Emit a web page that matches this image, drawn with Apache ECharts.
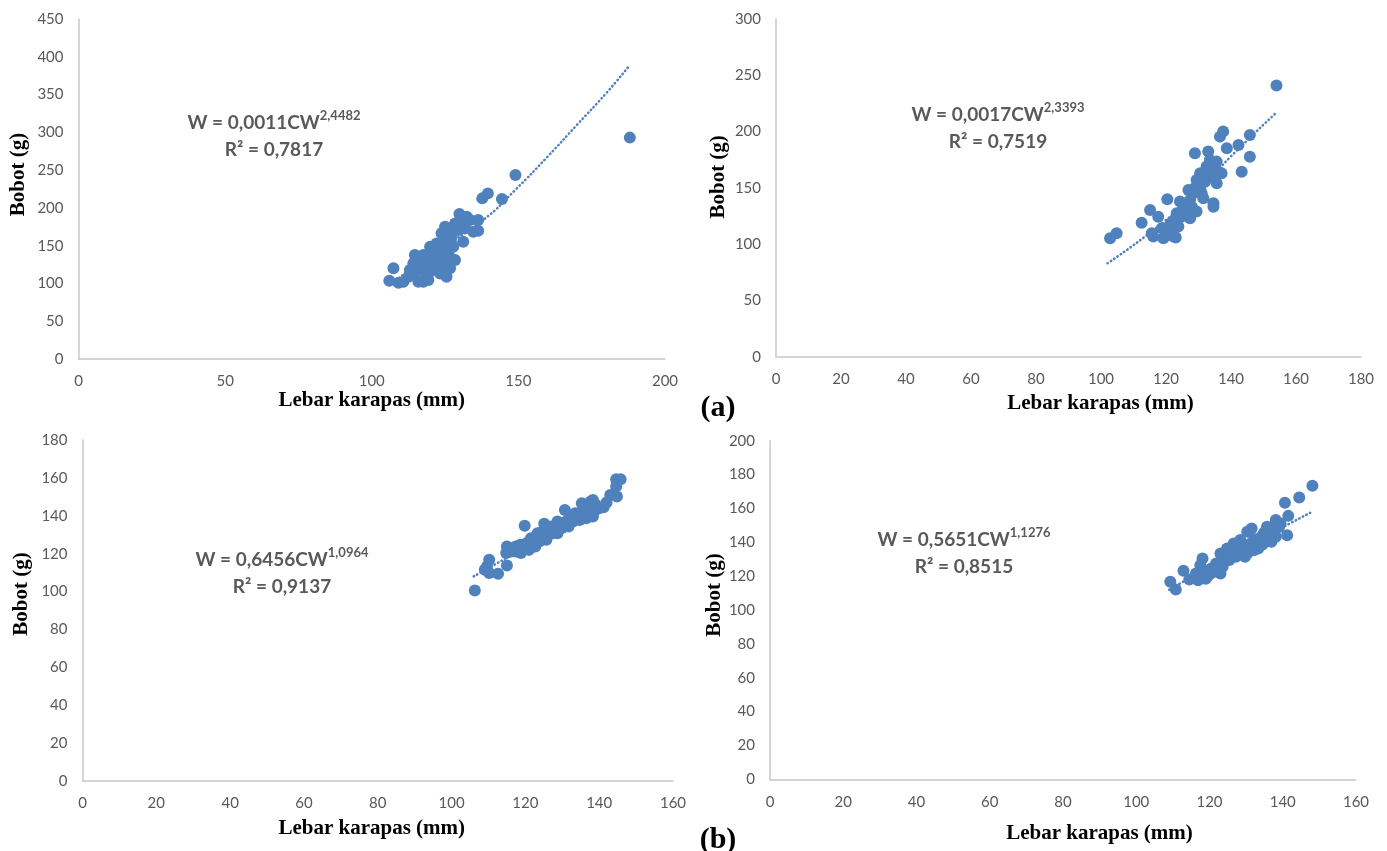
<!DOCTYPE html>
<html>
<head>
<meta charset="utf-8">
<script src="https://cdn.jsdelivr.net/npm/echarts@6/dist/echarts.min.js"></script>
<style>html,body{margin:0;padding:0;background:#fff}#c{width:1387px;height:851px}</style>
</head>
<body>
<div id="c"></div>
<script>
// ---------- data ----------
const points1 = [[106.0,103.6],[107.4,120],[109.1,101],[110.8,102.3],[112.5,108.9],[113.0,117.7],[114.2,126.6],[114.7,137.6],[117.6,137.6],[115.9,102.3],[117.6,102.3],[119.3,104.5],[116.4,120],[118.7,122.2],[120.4,131],[121.6,139.8],[122.1,153],[123.8,166.3],[125,175.1],[122.1,126.6],[123.3,113.3],[125.5,108.9],[126.7,120],[126.1,139.8],[127.8,148.6],[128.4,131],[127.2,161.9],[129.5,170.7],[131.2,155.2],[131.8,172.9],[133.5,183.9],[132.4,188.3],[129.9,191.9],[136.3,183.9],[136.3,169.8],[114.2,113.3],[115.3,122.2],[118.2,111.1],[119.9,115.5],[121,122.2],[122.7,135.4],[123.8,146.4],[125,153],[125.5,159.7],[119.9,148.6],[121,144.2],[117,128.8],[119.3,135.4],[126.7,166.3],[128.4,179.5],[130.1,177.3],[134.6,168.5],[118,115],[120,118],[122,130],[124,140],[125,145],[127,155],[126,128],[124,125],[137.7,212.6],[139.6,219.2],[144.4,211.7],[149,243.5],[188,293]];
const trend1 = [[106,98],[120,137],[138,184],[149,224],[160,268],[170,310],[180,352],[188,389]];

const points2 = [[102.8,105.2],[104.8,109.6],[112.5,119.1],[115.1,130.4],[117.6,124.4],[120.4,139.8],[115.6,109.6],[116.1,106.7],[119.2,105.2],[122.3,106.7],[118.7,114.1],[121.2,117],[123,105.8],[123.8,115.6],[123.3,127.4],[124.3,137.8],[126.4,130.4],[127.4,123],[129.4,128.9],[126.9,148.1],[129.4,157],[130.5,162.9],[132,155.5],[134.6,136.3],[134.6,133.3],[131.5,140.7],[128.9,180.7],[133,182.2],[133.5,174.8],[135.6,173.3],[136.1,164.4],[137.1,162.9],[135.6,154.1],[136.6,195.5],[137.6,200],[138.7,185.1],[142.3,188.1],[143.3,164.4],[145.8,197],[145.8,177.7],[127.4,139.3],[128.4,145.2],[130.5,149.6],[125.3,133.3],[132.5,168.9],[134.1,160],[124.5,124],[125.5,128],[126,135],[127,127],[128,133],[129,150],[130,154],[131,145],[133,165],[134,170],[135,158],[121,112],[122,120],[120,110],[154,241]];
const trend2 = [[102,83],[115,110],[128,142],[140,178],[154,217]];

const points3 = [[106.3,100.6],[110.2,116.8],[109.6,113.3],[110.2,109.8],[112.6,109.4],[109,111.5],[115,113.8],[115,123.8],[114.8,120.3],[117.4,121.2],[119.8,134.7],[118.8,120.3],[120.4,125.6],[121.5,128.2],[122.7,123.8],[124.5,129.4],[125.1,135.8],[125.7,127.4],[127.5,130.8],[128.7,137],[129.9,133.5],[130.7,143.1],[131.7,134.4],[132.9,137],[134.1,139.6],[135.3,146.6],[136.5,138.7],[137.7,147.5],[137.1,143.1],[138.9,143.1],[141.2,144.5],[143,151],[144.8,150.2],[144.6,155.4],[144.6,159.3],[145.8,159.3],[126.9,134.4],[128.1,132.6],[123.3,130.8],[121,122],[126.3,132.6],[130.5,135.3],[133.5,141.3],[135.3,142.2],[134.7,137.8],[138.3,139.6],[140,144],[117.4,123.8],[116.2,121.2],[118.6,124.7],[123.9,126.5],[128.7,130.8],[132.3,138.7],[136.5,144.8],[138.3,148.3],[122,127],[124,131],[127,134],[129,135],[131,137],[133,139],[135,140],[137,142],[139,146],[142,147],[120,124]];
const trend3 = [[106,108],[126,130],[146,152]];

const points4 = [[109.3,116.7],[110.8,112.1],[112.9,123.2],[114.5,118],[116.3,121.6],[116.9,117.6],[117.5,126.5],[118.1,130.4],[119.3,119.6],[120.5,124.5],[121.8,127.5],[123,133.4],[123.6,125.5],[124.8,136.3],[125.4,129.5],[126.6,139.3],[127.2,131.4],[128.4,136.3],[129.7,131.4],[130.3,146.2],[131.5,148.2],[132.1,141.3],[133.3,136.3],[134.5,144.2],[135.7,149.2],[136.9,140.3],[138.1,153.1],[139.4,151.1],[140.6,163.3],[141.2,144.2],[141.5,155.6],[144.5,166.5],[148.1,173.4],[128.4,141.3],[134.5,138.7],[136.3,145.2],[130.3,133.4],[118.7,122.6],[121.8,122.6],[124.2,129.5],[126.6,134.3],[132.1,135.3],[138.1,143.3],[123,121.6],[120,121],[122,126],[125,131],[127,136],[129,137],[131,139],[133,142],[135,146],[137,147],[139,149],[119,118.5],[117,120]];
const trend4 = [[109,112],[128,135],[148,158]];

const xTitle = 'Lebar karapas (mm)';
const yTitle = 'Bobot (g)';
const eq1 = ['W = 0,0011CW', '2,4482', 'R² = 0,7817'];
const eq2 = ['W = 0,0017CW', '2,3393', 'R² = 0,7519'];
const eq3 = ['W = 0,6456CW', '1,0964', 'R² = 0,9137'];
const eq4 = ['W = 0,5651CW', '1,1276', 'R² = 0,8515'];
const xRanges = [[0,200,50],[0,180,20],[0,160,20],[0,160,20]];
const yRanges = [[0,450,50],[0,300,50],[0,180,20],[0,200,20]];

// ---------- layout ----------
const grids = [
  {left:78.5, top:19, width:586.5, height:340},
  {left:776, top:19, width:585, height:337.7},
  {left:82.5, top:440, width:590.5, height:341},
  {left:770, top:440.7, width:586, height:338.6}
];
const xNameGap = [27, 36, 37.5, 43.5];
const xNamePad = [[0,0,0,0],[0,0,0,64],[0,12,0,0],[0,0,0,73]];
const yNameGap = [49, 47, 50, 43];
const yNamePad = [[0,0,0,29],[0,0,0,22],[0,0,0,33],[0,0,0,30]];
const eqPos = [[274,123],[998,115],[282,560],[964,540]];

const BLUE = '#4F81BD';
const GRAY = '#595959';
const tickFont = {color: GRAY, fontFamily: 'Lato', fontSize: 15};
const titleFont = {color: '#000', fontFamily: 'Liberation Serif', fontWeight: 'bold', fontSize: 21};

const allPoints = [points1, points2, points3, points4];
const allTrends = [trend1, trend2, trend3, trend4];
const allEq = [eq1, eq2, eq3, eq4];

const xAxis = [], yAxis = [], series = [], graphic = [];
for (let i = 0; i < 4; i++) {
  xAxis.push({
    type: 'value', gridIndex: i, min: xRanges[i][0], max: xRanges[i][1], interval: xRanges[i][2],
    splitLine: {show: false}, axisTick: {show: false},
    axisLine: {show: true, lineStyle: {color: '#c8c8c8', width: 1.5}},
    axisLabel: Object.assign({margin: 15}, tickFont),
    name: xTitle, nameLocation: 'middle', nameGap: xNameGap[i],
    nameTextStyle: Object.assign({padding: xNamePad[i]}, titleFont)
  });
  yAxis.push({
    type: 'value', gridIndex: i, min: yRanges[i][0], max: yRanges[i][1], interval: yRanges[i][2],
    splitLine: {show: false}, axisTick: {show: false},
    axisLine: {show: true, lineStyle: {color: '#c8c8c8', width: 1.5}},
    axisLabel: Object.assign({margin: 15}, tickFont),
    name: yTitle, nameLocation: 'middle', nameGap: yNameGap[i],
    nameTextStyle: Object.assign({padding: yNamePad[i]}, titleFont)
  });
  series.push({
    type: 'line', xAxisIndex: i, yAxisIndex: i, data: allTrends[i], smooth: true,
    showSymbol: false, symbol: 'none', z: 1, silent: true,
    lineStyle: {color: BLUE, width: 2.5, type: [0.5, 3.5], cap: 'round'}
  });
  series.push({
    type: 'scatter', xAxisIndex: i, yAxisIndex: i, data: allPoints[i], z: 2,
    symbol: 'circle', symbolSize: 12, itemStyle: {color: BLUE, opacity: 1}
  });
  const e = allEq[i];
  graphic.push({
    type: 'text', x: eqPos[i][0], y: eqPos[i][1] - 13.5,
    style: {
      text: '{m|' + e[0] + '}{s|' + e[1] + '}\n{m|' + e[2] + '}',
      align: 'center', verticalAlign: 'top',
      rich: {
        m: {fontFamily: 'Lato', fontWeight: 'bold', fontSize: 19, fill: GRAY, color: GRAY, lineHeight: 27, align: 'center'},
        s: {fontFamily: 'Lato', fontWeight: 'bold', fontSize: 13, fill: GRAY, color: GRAY, lineHeight: 18, verticalAlign: 'top', align: 'center'}
      }
    }
  });
}
graphic.push({type: 'text', x: 718, y: 408, style: {text: '(a)', fontFamily: 'Liberation Serif', fontWeight: 'bold', fontSize: 30, fill: '#000', align: 'center', verticalAlign: 'middle'}});
graphic.push({type: 'text', x: 718, y: 840, style: {text: '(b)', fontFamily: 'Liberation Serif', fontWeight: 'bold', fontSize: 30, fill: '#000', align: 'center', verticalAlign: 'middle'}});

const chart = echarts.init(document.getElementById('c'), null, {renderer: 'canvas'});
chart.setOption({
  animation: false,
  backgroundColor: '#fff',
  grid: grids.map(g => Object.assign({containLabel: false}, g)),
  xAxis, yAxis, series, graphic
});
</script>
</body>
</html>
